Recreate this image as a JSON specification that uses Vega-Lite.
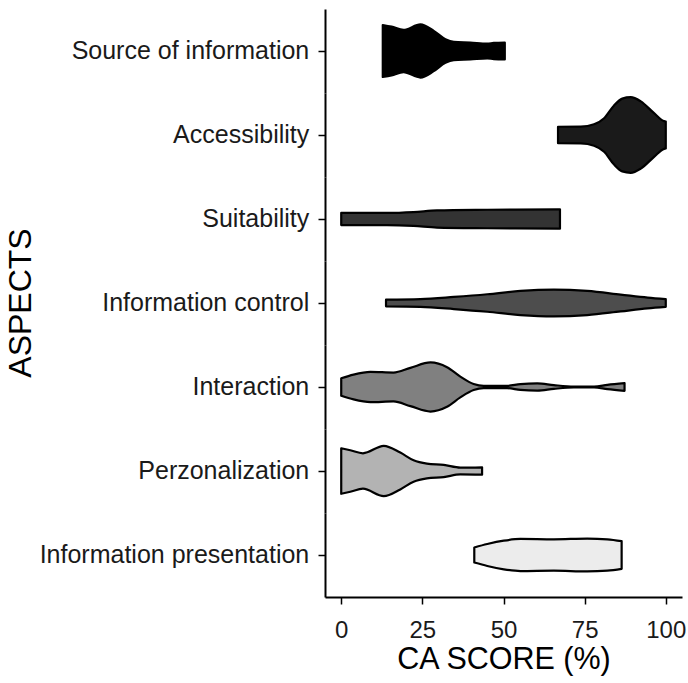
{
  "$schema": "https://vega.github.io/schema/vega-lite/v6.json",
  "padding": {"top": 9, "left": 5, "right": 5, "bottom": 5},
  "background": "white",
  "config": {
    "font": "Liberation Sans",
    "view": {"stroke": null},
    "facet": {"spacing": 0},
    "axis": {"domainColor": "black", "tickColor": "black", "labelColor": "#1a1a1a", "titleColor": "black", "grid": false, "domainWidth": 2, "tickWidth": 1.5, "tickSize": 7}
  },
  "data": {"values": [
    {"aspect": "Source of information", "score": 12.8, "hi": 0.309, "lo": -0.309},
    {"aspect": "Source of information", "score": 15.5, "hi": 0.29, "lo": -0.29},
    {"aspect": "Source of information", "score": 19.2, "hi": 0.252, "lo": -0.252},
    {"aspect": "Source of information", "score": 24.4, "hi": 0.316, "lo": -0.316},
    {"aspect": "Source of information", "score": 28.5, "hi": 0.24, "lo": -0.24},
    {"aspect": "Source of information", "score": 32.1, "hi": 0.14, "lo": -0.14},
    {"aspect": "Source of information", "score": 34.7, "hi": 0.108, "lo": -0.108},
    {"aspect": "Source of information", "score": 39.8, "hi": 0.1, "lo": -0.1},
    {"aspect": "Source of information", "score": 45.0, "hi": 0.088, "lo": -0.088},
    {"aspect": "Source of information", "score": 47.0, "hi": 0.096, "lo": -0.096},
    {"aspect": "Source of information", "score": 50.4, "hi": 0.1, "lo": -0.1},

    {"aspect": "Accessibility", "score": 66.8, "hi": 0.098, "lo": -0.098},
    {"aspect": "Accessibility", "score": 73.8, "hi": 0.1, "lo": -0.1},
    {"aspect": "Accessibility", "score": 77.9, "hi": 0.128, "lo": -0.128},
    {"aspect": "Accessibility", "score": 81.0, "hi": 0.2, "lo": -0.2},
    {"aspect": "Accessibility", "score": 84.0, "hi": 0.349, "lo": -0.349},
    {"aspect": "Accessibility", "score": 86.6, "hi": 0.433, "lo": -0.433},
    {"aspect": "Accessibility", "score": 89.2, "hi": 0.45, "lo": -0.45},
    {"aspect": "Accessibility", "score": 92.3, "hi": 0.4, "lo": -0.4},
    {"aspect": "Accessibility", "score": 96.4, "hi": 0.26, "lo": -0.26},
    {"aspect": "Accessibility", "score": 99.5, "hi": 0.165, "lo": -0.165},
    {"aspect": "Accessibility", "score": 100, "hi": 0.16, "lo": -0.16},

    {"aspect": "Suitability", "score": 0, "hi": 0.072, "lo": -0.072},
    {"aspect": "Suitability", "score": 14.1, "hi": 0.072, "lo": -0.072},
    {"aspect": "Suitability", "score": 22.3, "hi": 0.082, "lo": -0.082},
    {"aspect": "Suitability", "score": 29.5, "hi": 0.102, "lo": -0.102},
    {"aspect": "Suitability", "score": 45.0, "hi": 0.11, "lo": -0.11},
    {"aspect": "Suitability", "score": 67.4, "hi": 0.115, "lo": -0.115},

    {"aspect": "Information control", "score": 13.8, "hi": 0.04, "lo": -0.04},
    {"aspect": "Information control", "score": 24.4, "hi": 0.046, "lo": -0.046},
    {"aspect": "Information control", "score": 34.7, "hi": 0.072, "lo": -0.072},
    {"aspect": "Information control", "score": 45.0, "hi": 0.104, "lo": -0.104},
    {"aspect": "Information control", "score": 55.2, "hi": 0.144, "lo": -0.144},
    {"aspect": "Information control", "score": 65.5, "hi": 0.16, "lo": -0.16},
    {"aspect": "Information control", "score": 75.8, "hi": 0.144, "lo": -0.144},
    {"aspect": "Information control", "score": 86.1, "hi": 0.1, "lo": -0.1},
    {"aspect": "Information control", "score": 94.4, "hi": 0.064, "lo": -0.064},
    {"aspect": "Information control", "score": 100, "hi": 0.046, "lo": -0.046},

    {"aspect": "Interaction", "score": 0, "hi": 0.104, "lo": -0.104},
    {"aspect": "Interaction", "score": 3.8, "hi": 0.148, "lo": -0.148},
    {"aspect": "Interaction", "score": 9.0, "hi": 0.18, "lo": -0.18},
    {"aspect": "Interaction", "score": 16.1, "hi": 0.172, "lo": -0.172},
    {"aspect": "Interaction", "score": 21.3, "hi": 0.228, "lo": -0.228},
    {"aspect": "Interaction", "score": 27.5, "hi": 0.292, "lo": -0.292},
    {"aspect": "Interaction", "score": 32.6, "hi": 0.236, "lo": -0.236},
    {"aspect": "Interaction", "score": 36.7, "hi": 0.124, "lo": -0.124},
    {"aspect": "Interaction", "score": 40.8, "hi": 0.036, "lo": -0.036},
    {"aspect": "Interaction", "score": 43.9, "hi": 0.014, "lo": -0.014},
    {"aspect": "Interaction", "score": 51.1, "hi": 0.014, "lo": -0.014},
    {"aspect": "Interaction", "score": 55.2, "hi": 0.034, "lo": -0.034},
    {"aspect": "Interaction", "score": 60.4, "hi": 0.042, "lo": -0.042},
    {"aspect": "Interaction", "score": 65.5, "hi": 0.022, "lo": -0.022},
    {"aspect": "Interaction", "score": 71.7, "hi": 0.006, "lo": -0.006},
    {"aspect": "Interaction", "score": 77.9, "hi": 0.006, "lo": -0.006},
    {"aspect": "Interaction", "score": 82.0, "hi": 0.026, "lo": -0.026},
    {"aspect": "Interaction", "score": 87.3, "hi": 0.046, "lo": -0.046},

    {"aspect": "Perzonalization", "score": 0, "hi": 0.271, "lo": -0.271},
    {"aspect": "Perzonalization", "score": 2.8, "hi": 0.247, "lo": -0.247},
    {"aspect": "Perzonalization", "score": 6.7, "hi": 0.211, "lo": -0.211},
    {"aspect": "Perzonalization", "score": 13.1, "hi": 0.299, "lo": -0.299},
    {"aspect": "Perzonalization", "score": 18.2, "hi": 0.219, "lo": -0.219},
    {"aspect": "Perzonalization", "score": 22.3, "hi": 0.128, "lo": -0.128},
    {"aspect": "Perzonalization", "score": 26.4, "hi": 0.088, "lo": -0.088},
    {"aspect": "Perzonalization", "score": 31.6, "hi": 0.072, "lo": -0.072},
    {"aspect": "Perzonalization", "score": 36.7, "hi": 0.04, "lo": -0.04},
    {"aspect": "Perzonalization", "score": 43.4, "hi": 0.044, "lo": -0.044},

    {"aspect": "Information presentation", "score": 41.0, "hi": 0.09, "lo": -0.09},
    {"aspect": "Information presentation", "score": 45.0, "hi": 0.131, "lo": -0.131},
    {"aspect": "Information presentation", "score": 50.1, "hi": 0.171, "lo": -0.171},
    {"aspect": "Information presentation", "score": 55.2, "hi": 0.191, "lo": -0.191},
    {"aspect": "Information presentation", "score": 65.5, "hi": 0.187, "lo": -0.187},
    {"aspect": "Information presentation", "score": 75.8, "hi": 0.195, "lo": -0.195},
    {"aspect": "Information presentation", "score": 82.0, "hi": 0.187, "lo": -0.187},
    {"aspect": "Information presentation", "score": 86.4, "hi": 0.165, "lo": -0.165}
  ]},
  "facet": {
    "row": {
      "field": "aspect",
      "type": "nominal",
      "sort": ["Source of information", "Accessibility", "Suitability", "Information control", "Interaction", "Perzonalization", "Information presentation"],
      "header": {
        "title": "ASPECTS",
        "titleOrient": "left",
        "titleAngle": -90,
        "titleFontSize": 32,
        "titleFontWeight": "normal",
        "titleColor": "black",
        "titlePadding": -41,
        "labelOrient": "left",
        "labelAngle": 0,
        "labelAlign": "left",
        "labelFontSize": 25,
        "labelColor": "#1a1a1a",
        "labelPadding": 8
      }
    }
  },
  "spec": {
    "width": 357,
    "height": 84,
    "mark": {"type": "area", "interpolate": "monotone", "stroke": "black", "strokeWidth": 2.2, "strokeJoin": "round", "opacity": 1},
    "encoding": {
      "x": {
        "field": "score",
        "type": "quantitative",
        "scale": {"domain": [-5, 105], "nice": false, "zero": false},
        "axis": {"title": "CA SCORE (%)", "values": [0, 25, 50, 75, 100], "labelFontSize": 24, "titleFontSize": 30.5, "titleFontWeight": "normal", "labelPadding": 14, "titlePadding": 2}
      },
      "y": {
        "field": "hi",
        "type": "quantitative",
        "scale": {"domain": [-0.5, 0.5], "nice": false, "zero": false},
        "axis": {"title": null, "values": [0], "labels": false}
      },
      "y2": {"field": "lo"},
      "color": {
        "field": "aspect",
        "type": "nominal",
        "legend": null,
        "scale": {
          "domain": ["Source of information", "Accessibility", "Suitability", "Information control", "Interaction", "Perzonalization", "Information presentation"],
          "range": ["#000000", "#1a1a1a", "#333333", "#4d4d4d", "#808080", "#b3b3b3", "#ececec"]
        }
      }
    }
  }
}
